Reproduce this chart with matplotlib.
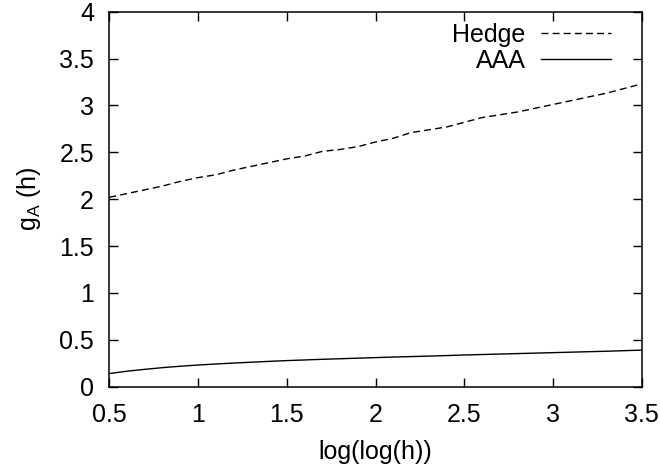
import matplotlib
matplotlib.use("Agg")
import matplotlib.pyplot as plt

plt.rcParams['font.family'] = ['Liberation Sans', 'DejaVu Sans']
plt.rcParams['mathtext.fontset'] = 'custom'
plt.rcParams['mathtext.rm'] = 'Liberation Sans'
plt.rcParams['mathtext.it'] = 'Liberation Sans'

# x = log(log(h))
x = [0.5, 0.6, 0.7, 0.8, 0.9, 1.0, 1.1, 1.2, 1.3, 1.4, 1.5, 1.6, 1.7, 1.8, 1.9, 2.0,
     2.1, 2.2, 2.3, 2.4, 2.5, 2.6, 2.7, 2.8, 2.9, 3.0, 3.1, 3.2, 3.3, 3.4, 3.5]
hedge = [2.02, 2.06, 2.10, 2.14, 2.19, 2.23, 2.26, 2.31, 2.35, 2.39, 2.43, 2.46, 2.51,
         2.53, 2.56, 2.61, 2.65, 2.71, 2.74, 2.77, 2.82, 2.87, 2.90, 2.93, 2.97, 3.01,
         3.05, 3.09, 3.13, 3.18, 3.23]
aaa = [0.14, 0.165, 0.185, 0.203, 0.218, 0.231, 0.242, 0.252, 0.261, 0.27, 0.278, 0.285,
       0.292, 0.298, 0.304, 0.31, 0.316, 0.321, 0.326, 0.332, 0.338, 0.343, 0.348, 0.353,
       0.358, 0.363, 0.368, 0.373, 0.378, 0.384, 0.39]

xticks = [0.5, 1, 1.5, 2, 2.5, 3, 3.5]
xticklabels = ['0.5', '1', '1.5', '2', '2.5', '3', '3.5']
yticks = [0, 0.5, 1, 1.5, 2, 2.5, 3, 3.5, 4]
yticklabels = ['0', '0.5', '1', '1.5', '2', '2.5', '3', '3.5', '4']

fig = plt.figure(figsize=(6.6, 4.67), dpi=100)
ax = fig.add_axes([0.1656, 0.172, 0.8067, 0.803])

ax.plot(x, hedge, color='black', lw=1.0, linestyle=(0, (5, 3)), label='Hedge')
ax.plot(x, aaa, color='black', lw=1.0, label='AAA')

ax.set_xlim(0.5, 3.5)
ax.set_ylim(0, 4)
ax.set_xticks(xticks)
ax.set_xticklabels(xticklabels)
ax.set_yticks(yticks)
ax.set_yticklabels(yticklabels)
ax.tick_params(direction='in', length=6.5, width=1.0, labelsize=18,
               top=True, right=True)
ax.tick_params(axis='x', pad=12)
ax.tick_params(axis='y', pad=11)
for s in ax.spines.values():
    s.set_linewidth(1.1)

ax.set_xlabel('log(log(h))', fontsize=18, labelpad=9)
ax.set_ylabel('g$_\\mathrm{A}$ (h)', fontsize=18, labelpad=12)

ax.legend(loc='upper right', frameon=False, fontsize=18, markerfirst=False,
          handlelength=2.8, handletextpad=0.6, labelspacing=0.1,
          borderaxespad=0.3, borderpad=0.3, bbox_to_anchor=(0.97, 1.011))

fig.savefig('out.png', dpi=100)
